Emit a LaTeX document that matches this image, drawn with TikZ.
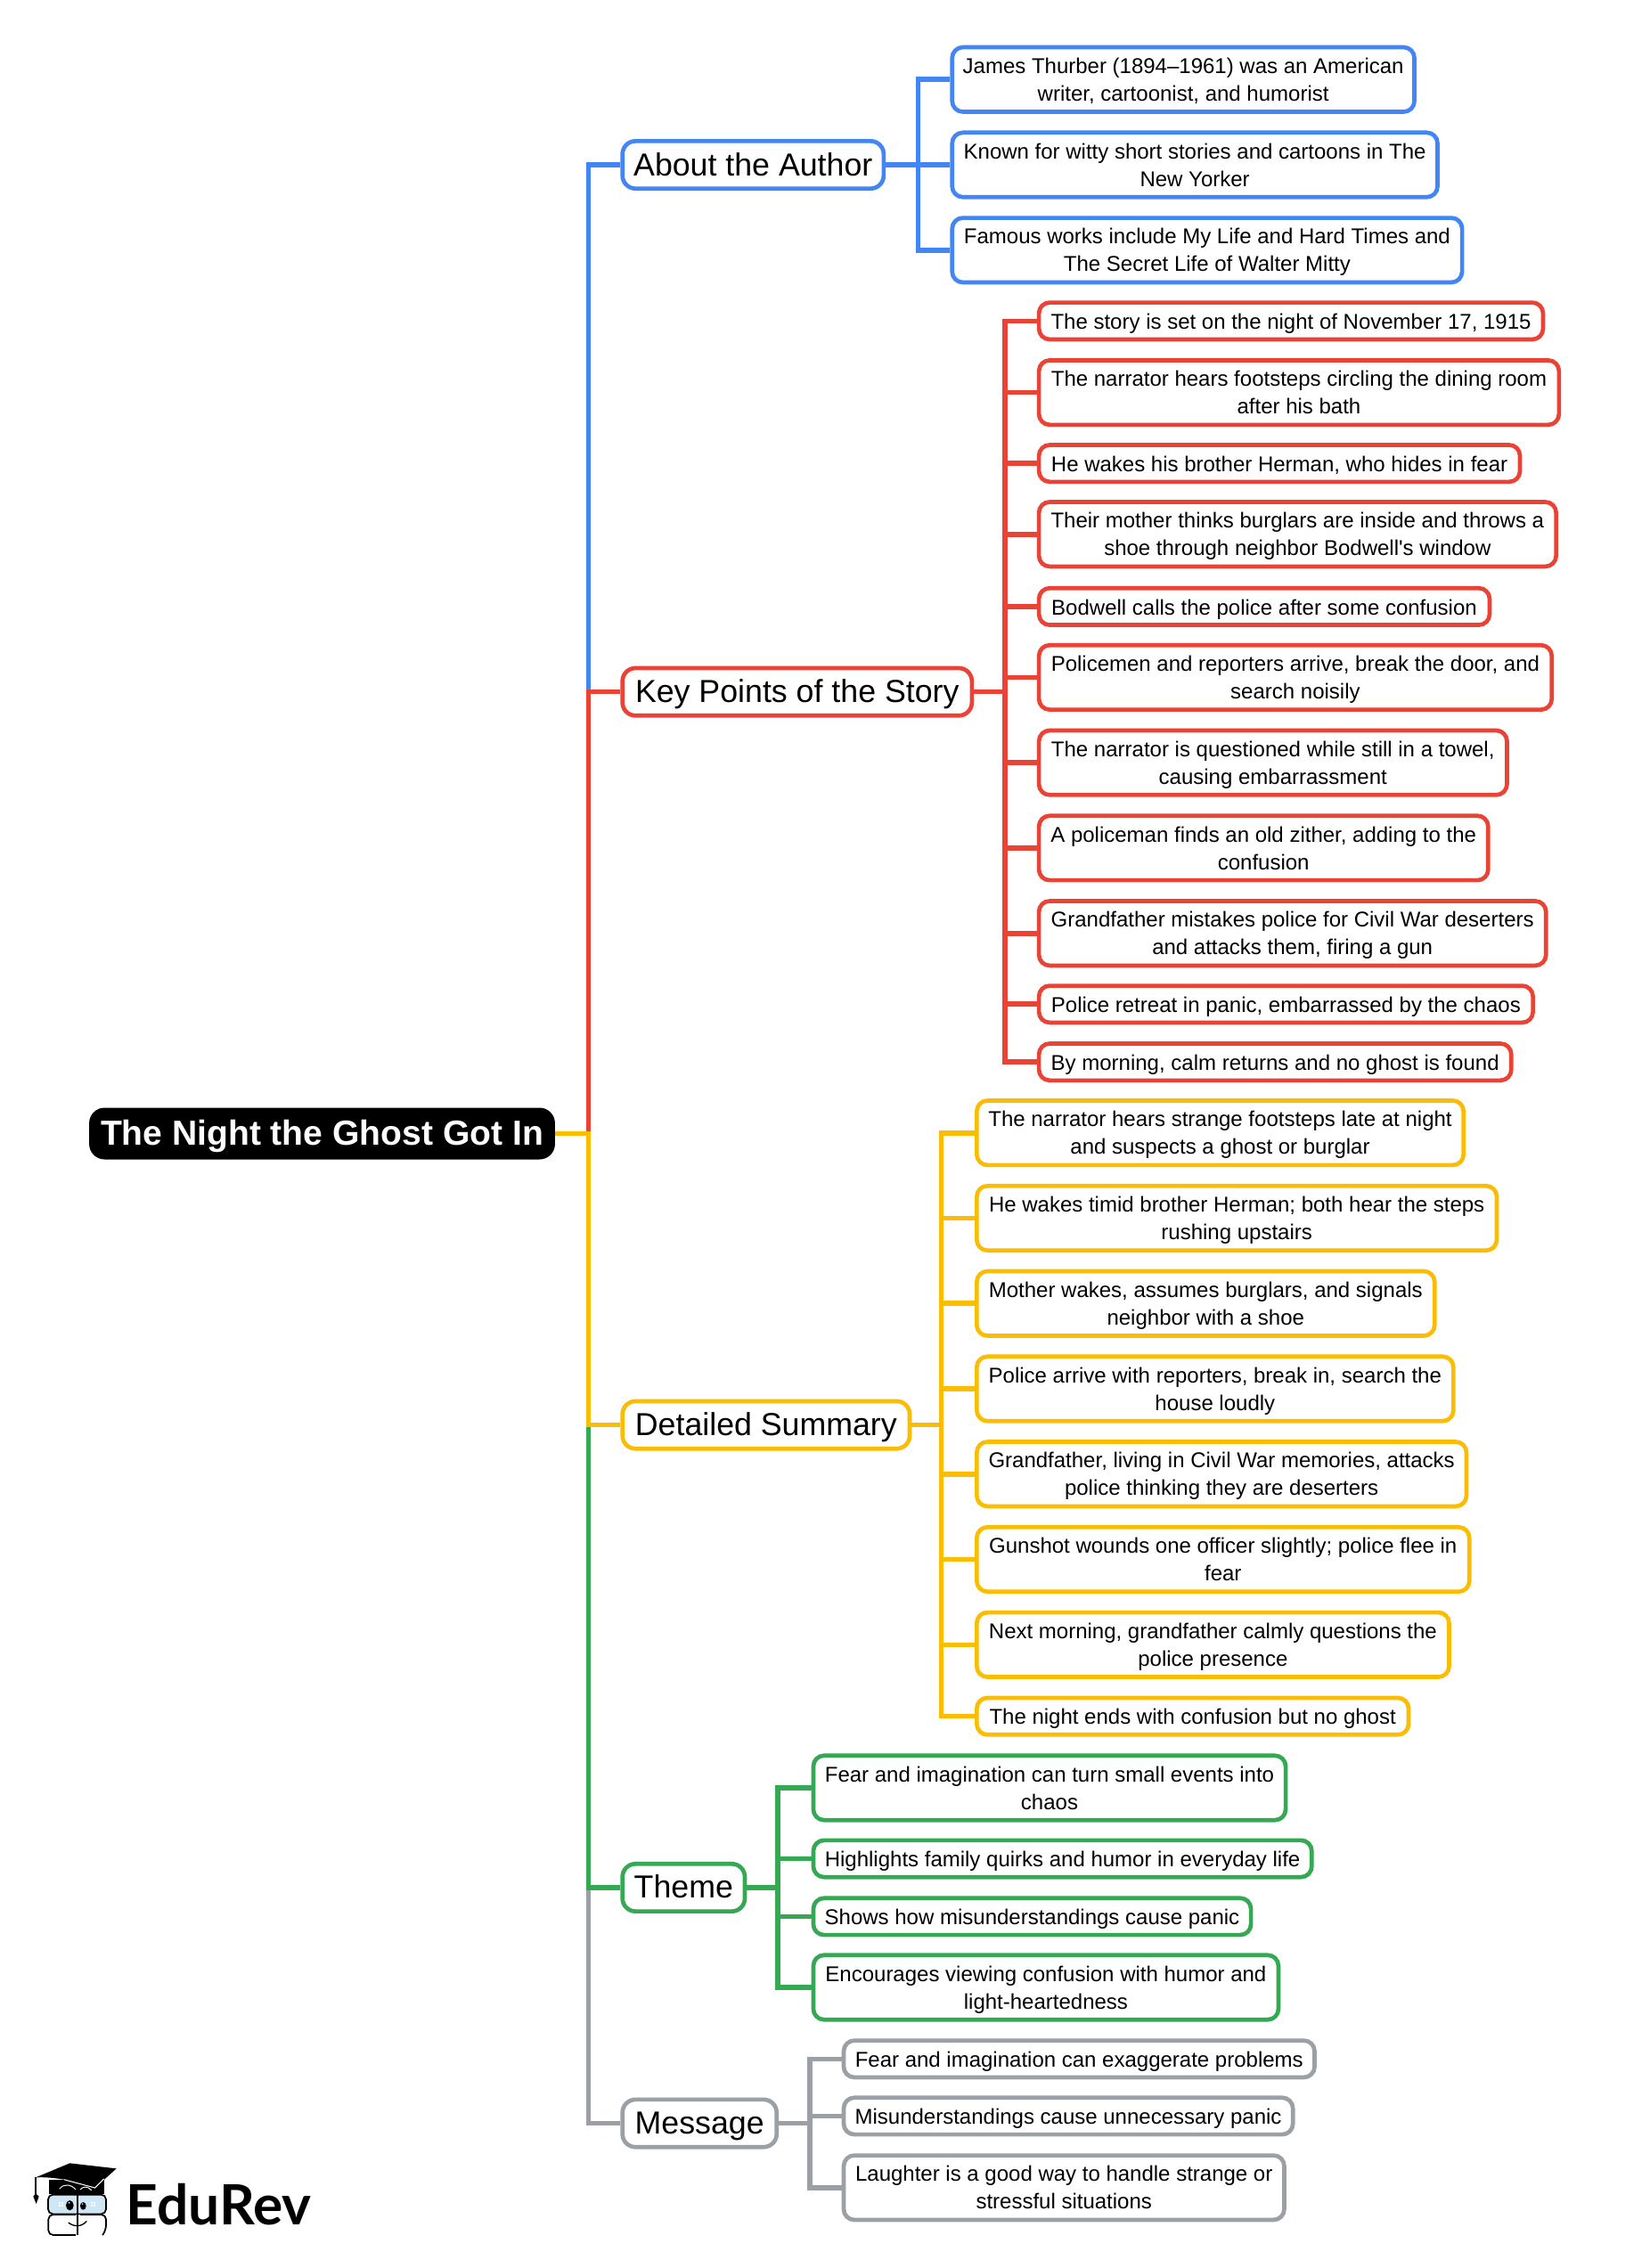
\documentclass[tikz,border=0pt]{standalone}
\usepackage{fontspec}
\setmainfont{Liberation Sans}
\newfontfamily\logofont{Lato}
\definecolor{cblue}{HTML}{4285F4}
\definecolor{cred}{HTML}{EA4335}
\definecolor{cyel}{HTML}{FBBC04}
\definecolor{cgrn}{HTML}{34A853}
\definecolor{cgry}{HTML}{9AA0A6}
\definecolor{cglass}{HTML}{CFE6F5}
\newcommand\ta{\rule{0pt}{20pt}}
\tikzset{
  wide/.style={minimum width={(#1+1.5)*1.2173pt-3.5pt}},
  struts/.style 2 args={execute at begin node=\rule[-#1]{0pt}{#2},execute at end node=\rule[-#1]{0pt}{#2}},
  anybox/.style={draw=#1,line width=3.5pt,fill=white,align=center,inner sep=0pt,anchor=west,text=black,xshift=-1.2pt},
  leafone/.style={anybox=#1,rounded corners=9pt,minimum height=31pt,font=\fontsize{18}{23.3}\selectfont,struts={7pt}{27.7pt}},
  leaftwo/.style={anybox=#1,rounded corners=9pt,minimum height=54.3pt,font=\fontsize{18}{23.3}\selectfont,execute at end node=\rule[-7pt]{0pt}{20pt}},
  branchbox/.style={anybox=#1,rounded corners=11pt,minimum height=40pt,font=\fontsize{26.8}{30}\selectfont,struts={9pt}{36pt}},
  rootbox/.style={fill=black,text=white,rounded corners=13pt,anchor=west,inner sep=0pt,minimum height=43.5pt,align=center,struts={9.6pt}{38pt},font=\fontsize{29.3}{32}\selectfont\bfseries},
  conn/.style={draw=#1,line width=4.2pt,line join=miter},
}
\begin{document}
\begin{tikzpicture}[x=1.2173pt,y=-1.2173pt]
\useasboundingbox (0,0) rectangle (1141,1568.6);
\fill[white] (0,0) rectangle (1141,1568.6);
% trunk and bracket points
\coordinate (trK) at (407,478.5);
\coordinate (trR) at (407,783.5);
\coordinate (trD) at (407,985.5);
\coordinate (trT) at (407,1305.5);
\coordinate (bA) at (635,114);
\coordinate (bK) at (695,478.5);
\coordinate (bD) at (651,985.5);
\coordinate (bT) at (538,1305.5);
\coordinate (bM) at (560,1468.5);
% root and branches
\node[rootbox,wide=323.5] (root) at (61.5,784) {The Night the Ghost Got In};
\node[branchbox=cblue,wide=182] (about) at (430,114) {About the Author};
\node[branchbox=cred,wide=243] (key) at (430,478.5) {Key Points of the Story};
\node[branchbox=cyel,wide=200] (det) at (430,985.5) {Detailed Summary};
\node[branchbox=cgrn,wide=86] (theme) at (430,1305.5) {Theme};
\node[branchbox=cgry,wide=108] (msg) at (430,1468.5) {Message};
% about
\node[leaftwo=cblue,wide=321] (a1) at (658,55) {\ta James Thurber (1894–1961) was an American\\writer, cartoonist, and humorist};
\node[leaftwo=cblue,wide=337] (a2) at (658,114) {\ta Known for witty short stories and cartoons in The\\New Yorker};
\node[leaftwo=cblue,wide=354] (a3) at (658,173) {\ta Famous works include My Life and Hard Times and\\The Secret Life of Walter Mitty};
% key points
\node[leafone=cred,wide=350] (r1) at (718,222) {The story is set on the night of November 17, 1915};
\node[leaftwo=cred,wide=361] (r2) at (718,271.5) {\ta The narrator hears footsteps circling the dining room\\after his bath};
\node[leafone=cred,wide=334] (r3) at (718,320.5) {He wakes his brother Herman, who hides in fear};
\node[leaftwo=cred,wide=359] (r4) at (718,369.5) {\ta Their mother thinks burglars are inside and throws a\\shoe through neighbor Bodwell\textquotesingle s window};
\node[leafone=cred,wide=313] (r5) at (718,419.5) {Bodwell calls the police after some confusion};
\node[leaftwo=cred,wide=356] (r6) at (718,468.5) {\ta Policemen and reporters arrive, break the door, and\\search noisily};
\node[leaftwo=cred,wide=325] (r7) at (718,527.5) {\ta The narrator is questioned while still in a towel,\\causing embarrassment};
\node[leaftwo=cred,wide=312] (r8) at (718,586.5) {\ta A policeman finds an old zither, adding to the\\confusion};
\node[leaftwo=cred,wide=352] (r9) at (718,645.5) {\ta Grandfather mistakes police for Civil War deserters\\and attacks them, firing a gun};
\node[leafone=cred,wide=343] (r10) at (718,694.5) {Police retreat in panic, embarrassed by the chaos};
\node[leafone=cred,wide=328] (r11) at (718,734.5) {By morning, calm returns and no ghost is found};
% summary
\node[leaftwo=cyel,wide=338] (y1) at (675,783.5) {\ta The narrator hears strange footsteps late at night\\and suspects a ghost or burglar};
\node[leaftwo=cyel,wide=361] (y2) at (675,842.5) {\ta He wakes timid brother Herman; both hear the steps\\rushing upstairs};
\node[leaftwo=cyel,wide=318] (y3) at (675,901.5) {\ta Mother wakes, assumes burglars, and signals\\neighbor with a shoe};
\node[leaftwo=cyel,wide=331] (y4) at (675,960.5) {\ta Police arrive with reporters, break in, search the\\house loudly};
\node[leaftwo=cyel,wide=340] (y5) at (675,1019.5) {\ta Grandfather, living in Civil War memories, attacks\\police thinking they are deserters};
\node[leaftwo=cyel,wide=342] (y6) at (675,1078.5) {\ta Gunshot wounds one officer slightly; police flee in\\fear};
\node[leaftwo=cyel,wide=328] (y7) at (675,1137.5) {\ta Next morning, grandfather calmly questions the\\police presence};
\node[leafone=cyel,wide=300] (y8) at (675,1187) {The night ends with confusion but no ghost};
% theme
\node[leaftwo=cgrn,wide=328] (g1) at (562,1236.5) {\ta Fear and imagination can turn small events into\\chaos};
\node[leafone=cgrn,wide=346] (g2) at (562,1285.5) {Highlights family quirks and humor in everyday life};
\node[leafone=cgrn,wide=304] (g3) at (562,1325.5) {Shows how misunderstandings cause panic};
\node[leaftwo=cgrn,wide=323] (g4) at (562,1374.5) {\ta Encourages viewing confusion with humor and\\light-heartedness};
% message
\node[leafone=cgry,wide=327] (m1) at (583,1424) {Fear and imagination can exaggerate problems};
\node[leafone=cgry,wide=312] (m2) at (583,1463.5) {Misunderstandings cause unnecessary panic};
\node[leaftwo=cgry,wide=306] (m3) at (583,1513) {\ta Laughter is a good way to handle strange or\\stressful situations};
% trunk connectors
\draw[conn=cgry] (msg.west) -| (trT);
\draw[conn=cgrn] (theme.west) -| (trD);
\draw[conn=cblue] (about.west) -| (trK);
\draw[conn=cred] (key.west) -| (trR);
\draw[conn=cyel] (root.east) -| (trD) -- (det.west);
% bracket connectors
\draw[conn=cblue] (about.east) -- (a2.west);
\draw[conn=cblue] (a1.west) -| (bA);
\draw[conn=cblue] (a3.west) -| (bA);
\draw[conn=cred] (key.east) -- (bK);
\foreach \n in {r1,r2,r3,r4,r5,r6,r7,r8,r9,r10,r11} \draw[conn=cred] (\n.west) -| (bK);
\draw[conn=cyel] (det.east) -- (bD);
\foreach \n in {y1,y2,y3,y4,y5,y6,y7,y8} \draw[conn=cyel] (\n.west) -| (bD);
\draw[conn=cgrn] (theme.east) -- (bT);
\foreach \n in {g1,g2,g3,g4} \draw[conn=cgrn] (\n.west) -| (bT);
\draw[conn=cgry] (msg.east) -- (bM);
\foreach \n in {m1,m2,m3} \draw[conn=cgry] (\n.west) -| (bM);
% logo (coordinates in thirds of a reference pixel)
\begin{scope}[shift={(0,1417.04)},x=0.25pt,y=-0.25pt]
  \fill[black] (165,440) -- (352,440) -- (352,490) -- (165,490) -- cycle;
  \fill[black] (120,433) -- (235,385) -- (392,403) -- (320,468) -- (215,440) .. controls (170,432) and (140,432) .. cycle;
  \draw[white,line width=0.8pt] (215,440) -- (320,468) -- (350,438);
  \draw[white,line width=0.7pt] (200,472) .. controls (215,452) and (240,456) .. (255,474);
  \draw[white,line width=0.7pt] (270,474) .. controls (280,462) and (295,462) .. (308,476);
  \draw[black,line width=1pt] (120,433) -- (120,492);
  \fill[black] (112,497) -- (121,487) -- (131,497) -- (122,522) -- cycle;
  \draw[black,line width=1.3pt,fill=cglass,rounded corners=4pt] (162,491) rectangle (357,556);
  \draw[black,line width=1.3pt,rounded corners=4pt] (255,627) -- (163,627) -- (163,558) -- (255,558);
  \draw[black,line width=1.3pt,rounded corners=4pt] (345,627) -- (357,610) -- (357,558) -- (270,558);
  \draw[black,line width=1.6pt] (262,490) -- (262,628);
  \fill[black] (235,527) ellipse (13 and 17);
  \fill[black] (280,529) ellipse (10 and 13);
  \fill[white] (233,518) circle (3);
  \fill[white] (278,522) circle (2.5);
  \fill[white] (199,516) rectangle (205,522); \fill[white] (207,516) rectangle (213,522);
  \fill[white] (199,524) rectangle (205,530); \fill[white] (207,524) rectangle (213,530);
  \fill[white] (306,516) rectangle (312,522); \fill[white] (314,516) rectangle (320,522);
  \fill[white] (306,524) rectangle (312,530); \fill[white] (314,524) rectangle (320,530);
  \draw[black,line width=1pt] (230,585) .. controls (250,600) and (275,600) .. (292,580);
  \node[anchor=base west,inner sep=0pt,font=\logofont\fontsize{46.7}{50}\selectfont\bfseries,text=black] (logo) at (424,592) {EduRev};
\end{scope}
\end{tikzpicture}
\end{document}
